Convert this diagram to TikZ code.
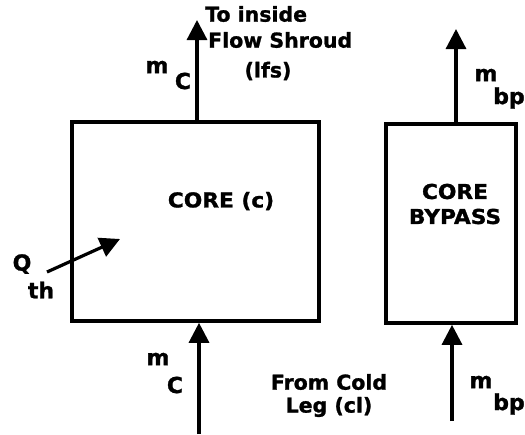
\documentclass[tikz,border=0pt]{standalone}
\usepackage{fontspec}
\setmainfont{DejaVu Sans}
\newfontfamily\heavy[FakeBold=1.2]{DejaVu Sans Bold}
\usetikzlibrary{arrows.meta}
\begin{document}
\begin{tikzpicture}[x=1pt,y=-1pt,
  box/.style={draw,line width=3.6pt},
  flow/.style={line width=3.2pt,-{Triangle[width=20pt,length=20pt]}},
  lbl/.style={inner sep=0pt,font=\heavy\fontsize{20.5}{24}\selectfont},
  sym/.style={inner sep=0pt,font=\heavy\fontsize{22}{24}\selectfont},
  big/.style={inner sep=0pt,font=\heavy\fontsize{20.5}{25}\selectfont,xscale=1.06,align=center}]
\useasboundingbox (0,0) rectangle (525,434);
% boxes
\node[box,minimum width=247pt,minimum height=199pt,inner sep=0pt] (core) at (195.5,221.5) {};
\node[box,minimum width=130pt,minimum height=199pt,inner sep=0pt] (byp) at (451,223.5) {};
\node[big] (coret) at (221,201) {CORE (c)};
\node[big,xscale=1.0] (bypt) at (455,204) {CORE\\BYPASS};
% flow coordinates
\coordinate (ctop) at (197,20);
\coordinate (cbot) at (199,434);
\coordinate (btop) at (456,29);
\coordinate (bbot) at (452,421);
\coordinate (qs) at (47,272);
\coordinate (qe) at (120,239);
\draw[flow] (core.north -| ctop) -- (ctop);
\draw[flow] (cbot) -- (cbot |- core.south);
\draw[flow] (byp.north -| btop) -- (btop);
\draw[flow] (bbot) -- (bbot |- byp.south);
\draw[flow] (qs) -- (qe);
% labels
\node[lbl,anchor=west] (t1) at (205,14) {To inside};
\node[lbl,anchor=west] (t2) at (208,40) {Flow Shroud};
\node[lbl] (t3) at (268,71) {(lfs)};
\node[sym] (m1) at (157,67) {m};
\node[sym] (c1) at (183,81) {C};
\node[sym] (m2) at (486,75) {m};
\node[sym] (b2) at (509,98) {bp};
\node[sym] (q) at (22,264) {Q};
\node[sym] (th) at (41,290) {th};
\node[sym] (m3) at (158,359) {m};
\node[sym] (c3) at (175,385) {C};
\node[lbl] (f1) at (329,382) {From Cold};
\node[lbl] (f2) at (329,407) {Leg (cl)};
\node[sym] (m4) at (481,382) {m};
\node[sym] (b4) at (509,404) {bp};
\end{tikzpicture}
\end{document}
